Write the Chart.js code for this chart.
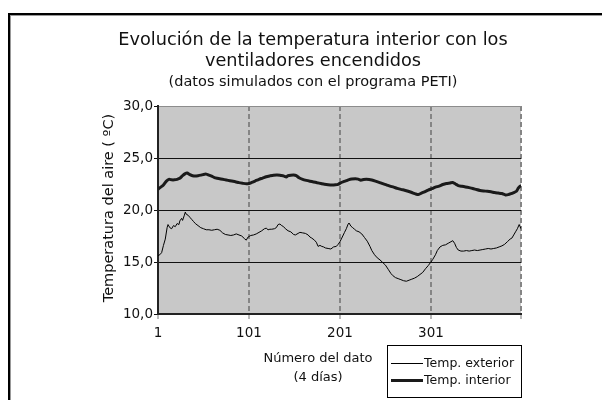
<!DOCTYPE html>
<html><head><meta charset="utf-8">
<script src="https://cdn.jsdelivr.net/npm/chart.js@4/dist/chart.umd.min.js"></script>
<style>html,body{margin:0;padding:0;background:#fff}canvas{display:block}</style>
</head><body>
<canvas id="c" width="602" height="400"></canvas>
<script>
const titleLines = ['Evolución de la temperatura interior con los', 'ventiladores encendidos'];
const subtitleText = '(datos simulados con el programa PETI)';
const yAxisTitle = 'Temperatura del aire ( ºC)';
const xAxisTitle = ['Número del dato', '(4 días)'];
const seriesNames = ['Temp. exterior', 'Temp. interior'];
const xTickValues = [1, 101, 201, 301, 400];
const xTickLabels = ['1', '101', '201', '301', ''];
const yTickValues = [10, 15, 20, 25, 30];
const yTickLabels = ['10,0', '15,0', '20,0', '25,0', '30,0'];

const extIndex = [
  1,3,5,7,9,11,12,14,16,18,
  20,22,24,25,27,28,30,31,32,34,
  36,38,40,42,45,48,51,54,57,60,
  63,66,69,72,75,78,81,84,87,90,
  93,96,98,100,103,106,109,112,115,118,
  120,122,124,126,129,131,133,135,137,139,
  141,144,147,150,152,155,157,160,163,166,
  168,170,173,175,177,179,181,183,185,188,
  191,194,197,199,201,203,206,208,210,211,
  213,215,217,219,222,225,228,231,234,236,
  239,242,245,248,251,254,257,259,262,265,
  268,271,274,277,280,283,286,289,292,295,
  298,301,303,306,308,311,314,317,320,323,
  325,327,329,331,334,337,340,343,346,349,
  352,355,358,361,364,367,370,373,376,379,
  382,385,388,390,392,394,396,398,399,400
];
const extTemp = [
  15.6,15.7,15.9,16.6,17.2,18.3,18.6,18.3,18.2,18.5,
  18.4,18.7,18.6,18.95,19.2,19.0,19.5,19.8,19.6,19.5,
  19.3,19.1,18.9,18.7,18.5,18.3,18.2,18.1,18.1,18.05,
  18.1,18.15,18.05,17.8,17.65,17.6,17.55,17.6,17.7,17.6,
  17.5,17.25,17.1,17.4,17.55,17.6,17.7,17.85,18.0,18.2,
  18.25,18.1,18.15,18.15,18.2,18.3,18.6,18.65,18.5,18.4,
  18.2,18.0,17.9,17.65,17.6,17.75,17.85,17.8,17.75,17.6,
  17.4,17.3,17.1,16.9,16.5,16.6,16.5,16.45,16.35,16.3,
  16.25,16.45,16.5,16.7,16.95,17.3,17.85,18.2,18.65,18.75,
  18.45,18.3,18.15,18.0,17.9,17.7,17.35,17.0,16.5,16.1,
  15.7,15.4,15.2,14.95,14.7,14.3,13.9,13.7,13.5,13.4,
  13.3,13.2,13.15,13.25,13.35,13.45,13.6,13.8,14.0,14.35,
  14.65,15.0,15.25,15.7,16.1,16.45,16.6,16.65,16.8,16.95,
  17.05,16.8,16.4,16.15,16.05,16.05,16.1,16.05,16.1,16.15,
  16.1,16.15,16.2,16.25,16.3,16.25,16.3,16.35,16.45,16.55,
  16.7,16.95,17.2,17.3,17.6,17.9,18.2,18.6,18.4,18.2
];
const intIndex = [
  1,4,7,10,13,16,19,22,25,28,
  31,33,36,39,42,45,48,51,54,57,
  60,63,66,70,74,78,82,86,90,94,
  98,101,104,108,112,116,120,124,128,132,
  136,139,142,144,147,150,153,156,160,164,
  168,172,176,180,184,188,192,196,199,202,
  205,208,211,214,218,221,224,227,230,233,
  236,240,244,248,252,256,260,264,268,272,
  276,280,284,287,290,294,298,302,306,310,
  314,318,322,325,328,331,335,339,343,347,
  351,355,359,363,367,371,375,379,383,386,
  389,392,395,397,399,400
];
const intTemp = [
  22.0,22.2,22.4,22.75,22.95,22.9,22.9,22.95,23.05,23.3,
  23.5,23.55,23.4,23.3,23.27,23.3,23.35,23.42,23.45,23.35,
  23.25,23.12,23.05,22.98,22.92,22.85,22.78,22.72,22.63,22.57,
  22.52,22.55,22.65,22.8,22.95,23.07,23.2,23.28,23.35,23.37,
  23.32,23.28,23.18,23.3,23.35,23.37,23.3,23.1,22.95,22.85,
  22.77,22.7,22.62,22.55,22.48,22.43,22.4,22.42,22.47,22.62,
  22.73,22.82,22.92,22.97,23.0,22.97,22.87,22.93,22.95,22.93,
  22.88,22.78,22.66,22.53,22.42,22.3,22.2,22.08,21.98,21.9,
  21.8,21.68,21.55,21.48,21.6,21.75,21.92,22.05,22.2,22.3,
  22.45,22.55,22.6,22.65,22.5,22.35,22.28,22.22,22.15,22.07,
  21.97,21.88,21.83,21.8,21.75,21.68,21.63,21.58,21.45,21.48,
  21.57,21.68,21.8,22.1,22.3,22.3
];

const FONT = '"DejaVu Sans", Verdana, sans-serif';
const TXT = '#111';

const deco = {
  id: 'deco',
  beforeDraw(chart) {
    const {ctx, chartArea: a} = chart;
    ctx.save();
    ctx.fillStyle = '#fff';
    ctx.fillRect(0, 0, chart.width, chart.height);
    ctx.fillStyle = '#c8c8c8';
    ctx.fillRect(a.left, a.top, a.right - a.left, a.bottom - a.top);
    ctx.restore();
  },
  afterDraw(chart) {
    const ctx = chart.ctx;
    ctx.save();
    // outer frame
    ctx.fillStyle = '#000';
    ctx.fillRect(8, 13, 594, 2);
    ctx.fillRect(8, 13, 2, 387);
    ctx.fillStyle = '#999';
    ctx.fillRect(10, 15, 592, 1);
    ctx.fillRect(10, 15, 1, 385);
    // y axis title
    ctx.fillStyle = TXT;
    ctx.font = '14.5px ' + FONT;
    ctx.textAlign = 'center';
    ctx.textBaseline = 'middle';
    ctx.save();
    ctx.translate(109, 208);
    ctx.rotate(-Math.PI / 2);
    ctx.fillText(yAxisTitle, 0, 0);
    ctx.restore();
    // x axis title
    ctx.font = '13px ' + FONT;
    ctx.fillText(xAxisTitle[0], 318, 359);
    ctx.fillText(xAxisTitle[1], 318, 378);
    // legend
    ctx.strokeStyle = '#000';
    ctx.lineWidth = 1;
    ctx.strokeRect(387.5, 345.5, 134, 52);
    ctx.textAlign = 'left';
    ctx.font = '12.5px ' + FONT;
    const rows = [363, 380];
    chart.data.datasets.forEach((ds, i) => {
      ctx.strokeStyle = ds.borderColor;
      ctx.lineWidth = ds.borderWidth;
      ctx.beginPath();
      ctx.moveTo(391, rows[i] + 0.5);
      ctx.lineTo(423, rows[i] + 0.5);
      ctx.stroke();
      ctx.fillStyle = TXT;
      ctx.fillText(ds.label, 424, rows[i] + 1);
    });
    ctx.restore();
  }
};

new Chart(document.getElementById('c'), {
  type: 'line',
  data: {
    datasets: [
      {
        label: seriesNames[0],
        data: extIndex.map((x, i) => ({x, y: extTemp[i]})),
        borderColor: '#000', borderWidth: 1, pointRadius: 0, tension: 0
      },
      {
        label: seriesNames[1],
        data: intIndex.map((x, i) => ({x, y: intTemp[i]})),
        borderColor: '#1a1a1a', borderWidth: 3, pointRadius: 0, tension: 0.2
      }
    ]
  },
  options: {
    responsive: false,
    animation: false,
    devicePixelRatio: 1,
    layout: {padding: {left: 105, right: 81, top: 0, bottom: 0}},
    plugins: {
      legend: {display: false},
      tooltip: {enabled: false},
      title: {
        display: true, text: titleLines, color: TXT,
        font: {family: FONT, size: 17.7, weight: 'normal', lineHeight: '21px'},
        padding: {top: 30, bottom: 0}
      },
      subtitle: {
        display: true, text: subtitleText, color: TXT,
        font: {family: FONT, size: 14.5, weight: 'normal', lineHeight: '17px'},
        padding: {top: 1.5, bottom: 15.5}
      }
    },
    scales: {
      x: {
        type: 'linear', min: 1, max: 400,
        afterBuildTicks: s => { s.ticks = xTickValues.map(v => ({value: v})); },
        afterFit: s => { s.height = 86; },
        ticks: {
          autoSkip: false, maxRotation: 0, padding: 6, color: TXT,
          font: {family: FONT, size: 13.5},
          callback: (v, i) => xTickLabels[i]
        },
        grid: {color: '#858585', lineWidth: 2, tickColor: '#777', tickLength: 5, tickWidth: 1},
        border: {display: true, color: '#222', width: 2, dash: [5, 3]}
      },
      y: {
        min: 10, max: 30,
        afterBuildTicks: s => { s.ticks = yTickValues.map(v => ({value: v})); },
        afterFit: s => { s.width = 53; },
        ticks: {
          padding: 1, color: TXT,
          font: {family: FONT, size: 13.5},
          callback: (v, i) => yTickLabels[i]
        },
        grid: {
          color: c => (c.tick && c.tick.value === 30) ? '#8c8c8c' : '#111',
          lineWidth: 1, tickColor: '#111', tickLength: 4
        },
        border: {display: true, color: '#222', width: 2}
      }
    }
  },
  plugins: [deco]
});
</script>
</body></html>
